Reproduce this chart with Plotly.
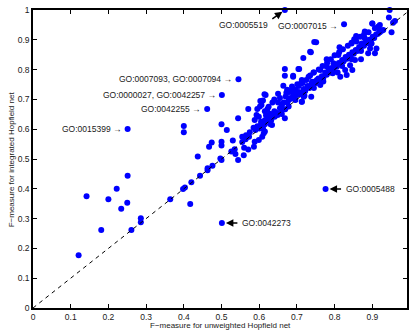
import plotly.graph_objects as go

# Labelled points
label_x = [0.668, 0.825, 0.545, 0.501, 0.462, 0.251, 0.501, 0.776]
label_y = [1.000, 0.952, 0.768, 0.715, 0.668, 0.601, 0.285, 0.399]
label_text = ["GO:0005519", "GO:0007015 \u2192", "GO:0007093, GO:0007094 \u2192",
              "GO:0000027, GO:0042257 \u2192", "GO:0042255 \u2192", "GO:0015399 \u2192",
              "GO:0042273", "GO:0005488"]

# Other points (unweighted F-measure, integrated F-measure)
pts = [
    (0.121, 0.177), (0.142, 0.375), (0.181, 0.262), (0.200, 0.365), (0.222, 0.400),
    (0.234, 0.333), (0.250, 0.353), (0.251, 0.444), (0.261, 0.262), (0.286, 0.301),
    (0.286, 0.288), (0.364, 0.365), (0.398, 0.399), (0.403, 0.404), (0.420, 0.422),
    (0.417, 0.349), (0.443, 0.444), (0.437, 0.508), (0.463, 0.462), (0.476, 0.477),
    (0.463, 0.469),
    (0.500, 0.497), (0.497, 0.502), (0.544, 0.497), (0.537, 0.517), (0.559, 0.513),
    (0.526, 0.525), (0.535, 0.533), (0.560, 0.538), (0.571, 0.532), (0.586, 0.541),
    (0.530, 0.562), (0.555, 0.557), (0.500, 0.558), (0.500, 0.545), (0.474, 0.555),
    (0.467, 0.541), (0.564, 0.566), (0.573, 0.575), (0.588, 0.558), (0.599, 0.564),
    (0.608, 0.575), (0.615, 0.592), (0.590, 0.597), (0.514, 0.597), (0.500, 0.617),
    (0.400, 0.611), (0.400, 0.590), (0.544, 0.637), (0.588, 0.631), (0.599, 0.642),
    (0.593, 0.648), (0.610, 0.603), (0.612, 0.586), (0.615, 0.617), (0.621, 0.631),
    (0.634, 0.614), (0.605, 0.617), (0.601, 0.602), (0.632, 0.631), (0.571, 0.668),
    (0.595, 0.668), (0.602, 0.676), (0.615, 0.660), (0.622, 0.668), (0.628, 0.652),
    (0.618, 0.647), (0.630, 0.645), (0.641, 0.642), (0.647, 0.653), (0.649, 0.648),
    (0.660, 0.651), (0.669, 0.667), (0.668, 0.637), (0.610, 0.696), (0.617, 0.715),
    (0.603, 0.695), (0.606, 0.681), (0.614, 0.717), (0.650, 0.719), (0.672, 0.722),
    (0.664, 0.746), (0.687, 0.732), (0.696, 0.732), (0.691, 0.720), (0.701, 0.751),
    (0.711, 0.754), (0.710, 0.717), (0.713, 0.692), (0.738, 0.709), (0.668, 0.779),
    (0.690, 0.779), (0.668, 0.802), (0.704, 0.802), (0.717, 0.839), (0.735, 0.860),
    (0.737, 0.858), (0.751, 0.892), (0.746, 0.893),
    (0.857, 0.913), (0.880, 0.928), (0.858, 0.894), (0.872, 0.888), (0.880, 0.905),
    (0.889, 0.894), (0.898, 0.888), (0.894, 0.871), (0.911, 0.871), (0.907, 0.855),
    (0.889, 0.855), (0.870, 0.835), (0.813, 0.875), (0.810, 0.849), (0.841, 0.815),
    (0.854, 0.832), (0.828, 0.799), (0.847, 0.799), (0.832, 0.782), (0.815, 0.776),
    (0.808, 0.790), (0.779, 0.835), (0.779, 0.810), (0.797, 0.821), (0.792, 0.793),
    (0.762, 0.799), (0.744, 0.790), (0.731, 0.776), (0.753, 0.765), (0.762, 0.748),
    (0.740, 0.759), (0.713, 0.765), (0.706, 0.802), (0.690, 0.776), (0.674, 0.732),
    (0.687, 0.743), (0.691, 0.720), (0.704, 0.720), (0.718, 0.709), (0.713, 0.692),
    (0.696, 0.698), (0.678, 0.704), (0.660, 0.664), (0.678, 0.676), (0.630, 0.617),
    (0.900, 0.955), (0.920, 0.950), (0.907, 0.939), (0.929, 0.933), (0.955, 0.957),
    (0.960, 0.963), (0.951, 0.925), (0.944, 0.975), (0.946, 1.000), (0.900, 0.955),
    (0.915, 0.944), (0.920, 0.933), (0.852, 0.902), (0.845, 0.888),
    (0.700, 0.715), (0.705, 0.725), (0.712, 0.722), (0.718, 0.735), (0.722, 0.728),
    (0.728, 0.745), (0.733, 0.738), (0.738, 0.750), (0.742, 0.745), (0.748, 0.760),
    (0.752, 0.755), (0.757, 0.770), (0.762, 0.765), (0.766, 0.778), (0.770, 0.772),
    (0.775, 0.790), (0.779, 0.783), (0.784, 0.795), (0.788, 0.790), (0.792, 0.805),
    (0.797, 0.800), (0.802, 0.815), (0.806, 0.810), (0.811, 0.822), (0.815, 0.818),
    (0.820, 0.832), (0.824, 0.828), (0.829, 0.842), (0.833, 0.836), (0.838, 0.850),
    (0.842, 0.845), (0.847, 0.858), (0.851, 0.853), (0.856, 0.866), (0.860, 0.862),
    (0.865, 0.876), (0.869, 0.871), (0.874, 0.884), (0.878, 0.880), (0.883, 0.892),
    (0.887, 0.889), (0.892, 0.900), (0.896, 0.897), (0.901, 0.910), (0.905, 0.906),
    (0.910, 0.918), (0.915, 0.920), (0.920, 0.925), (0.925, 0.930),
    (0.705, 0.745), (0.715, 0.755), (0.725, 0.765), (0.735, 0.780), (0.745, 0.790),
    (0.758, 0.800), (0.768, 0.812), (0.780, 0.822), (0.790, 0.835), (0.800, 0.848),
    (0.812, 0.858), (0.822, 0.868), (0.835, 0.880), (0.845, 0.890), (0.855, 0.900),
    (0.868, 0.910), (0.878, 0.918), (0.890, 0.925),
    (0.720, 0.712), (0.745, 0.738), (0.770, 0.760), (0.795, 0.788), (0.820, 0.812),
    (0.845, 0.835), (0.870, 0.862), (0.895, 0.885),
    (0.555, 0.575), (0.565, 0.580), (0.575, 0.590), (0.585, 0.605), (0.595, 0.610),
    (0.605, 0.625), (0.615, 0.630), (0.625, 0.640), (0.635, 0.650), (0.640, 0.660),
    (0.645, 0.655), (0.655, 0.670), (0.660, 0.680), (0.665, 0.690), (0.675, 0.690),
    (0.680, 0.700), (0.685, 0.705), (0.690, 0.710), (0.695, 0.700), (0.625, 0.675),
    (0.635, 0.690), (0.640, 0.700), (0.650, 0.690), (0.655, 0.705), (0.670, 0.710),
    (0.680, 0.725),
]
x_unweighted = [p[0] for p in pts] + label_x
y_integrated = [p[1] for p in pts] + label_y

diag = [0, 1]
x_ticks = [0, 0.1, 0.2, 0.3, 0.4, 0.5, 0.6, 0.7, 0.8, 0.9]
y_ticks = [0, 0.1, 0.2, 0.3, 0.4, 0.5, 0.6, 0.7, 0.8, 0.9, 1]
x_title = "F\u2212measure for unweighted Hopfield net"
y_title = "F\u2212measure for integrated Hopfield net"

FONT = "Liberation Sans, Arial, Helvetica, sans-serif"
TXT = "#1a1a1a"
FS = 8.5
FT = 8

fig = go.Figure()
fig.add_trace(go.Scatter(x=x_unweighted, y=y_integrated, mode="markers",
                         marker=dict(color="#0000ff", size=6, line=dict(width=0)),
                         cliponaxis=False, hoverinfo="skip"))
fig.add_trace(go.Scatter(x=diag, y=diag, mode="lines",
                         line=dict(color="black", width=1, dash="4px,4px"),
                         hoverinfo="skip"))

ann = []
for i in [1, 2, 3, 4, 5]:
    ann.append(dict(x=label_x[i], y=label_y[i], text=label_text[i], showarrow=False,
                    xanchor="right", yanchor="middle", xshift=-4, yshift=-2 if i == 1 else 0,
                    font=dict(family=FONT, size=FS, color=TXT)))
ann.append(dict(x=label_x[0], y=label_y[0], text=label_text[0], showarrow=False,
                xanchor="right", yanchor="middle", xshift=-15, yshift=-15,
                font=dict(family=FONT, size=FS, color=TXT)))
ann.append(dict(x=label_x[0], y=label_y[0], text="", showarrow=True, ax=-14, ay=10,
                arrowhead=2, arrowsize=1, arrowwidth=1.5, arrowcolor="black", standoff=3))
for i in [6, 7]:
    ann.append(dict(x=label_x[i], y=label_y[i], text=label_text[i], showarrow=False,
                    xanchor="left", yanchor="middle", xshift=18,
                    font=dict(family=FONT, size=FS, color=TXT)))
    ann.append(dict(x=label_x[i], y=label_y[i], text="", showarrow=True, ax=17, ay=0,
                    arrowhead=2, arrowsize=1, arrowwidth=1.5, arrowcolor="black", standoff=4))
# axis titles
ann.append(dict(xref="paper", yref="paper", x=0.5, y=-0.06, text=x_title, showarrow=False,
                xanchor="center", yanchor="middle", font=dict(family=FONT, size=FT, color=TXT)))
ann.append(dict(xref="paper", yref="paper", x=-0.058, y=0.5, text=y_title, showarrow=False,
                textangle=-90, xanchor="center", yanchor="middle",
                font=dict(family=FONT, size=FT, color=TXT)))

fig.update_layout(
    width=410, height=330,
    margin=dict(l=33, r=1, t=10, b=22),
    paper_bgcolor="white", plot_bgcolor="white",
    showlegend=False,
    font=dict(family=FONT, size=FT, color=TXT),
    annotations=ann,
)
axis_common = dict(ticks="inside", ticklen=4, tickcolor="black", tickwidth=1,
                   showline=True, linecolor="black", linewidth=1.5, mirror="ticks",
                   showgrid=False, zeroline=False,
                   tickfont=dict(family=FONT, size=FS, color=TXT))
fig.update_xaxes(range=[0, 0.992], tickvals=x_ticks, ticktext=[("%g" % v) for v in x_ticks],
                 **axis_common)
fig.update_yaxes(range=[0, 1], tickvals=y_ticks, ticktext=[("%g" % v) for v in y_ticks],
                 **axis_common)

fig.write_html("out.html", config={"displayModeBar": False},
               post_script="document.body.style.margin='0px';document.body.style.overflow='hidden';")
